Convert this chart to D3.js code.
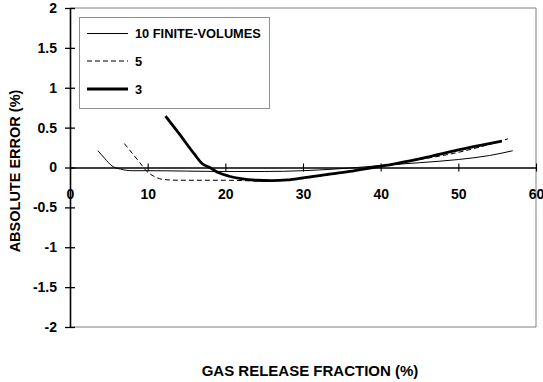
<!DOCTYPE html>
<html>
<head>
<meta charset="utf-8">
<script src="https://cdn.jsdelivr.net/npm/d3@7"></script>
<style>
  html, body { margin: 0; padding: 0; background: #fff; }
  svg { display: block; }
  text { font-family: "Liberation Sans", Arial, Helvetica, sans-serif; font-weight: bold; fill: #000; }
</style>
</head>
<body>
<svg id="chart" width="543" height="382"></svg>
<script>
// Absolute error vs. gas release fraction for three discretisations
const x10 = [3.6, 4.5, 5.4, 6.5, 8, 10, 15, 20, 25, 30, 34, 37, 40, 45, 50, 54, 57];
const y10 = [0.21, 0.11, 0.02, -0.02, -0.04, -0.04, -0.045, -0.05, -0.05, -0.04, -0.02, 0.0, 0.025, 0.06, 0.10, 0.15, 0.21];

const x5 = [7.0, 8.0, 9.0, 9.9, 10.8, 12.0, 14, 17, 20, 25, 30, 34, 37, 40, 45, 50, 54, 56.4];
const y5 = [0.30, 0.18, 0.06, -0.05, -0.11, -0.15, -0.16, -0.16, -0.16, -0.17, -0.14, -0.08, -0.03, 0.02, 0.10, 0.19, 0.29, 0.36];

const x3 = [12.3, 14, 16, 17, 18, 19, 20.5, 22, 24, 26, 28, 30, 33, 36, 39, 42, 46, 50, 53, 55.6];
const y3 = [0.645, 0.43, 0.17, 0.05, 0.0, -0.06, -0.11, -0.14, -0.16, -0.165, -0.155, -0.13, -0.09, -0.05, 0.0, 0.05, 0.13, 0.22, 0.28, 0.33];

const legendLabels = ["10 FINITE-VOLUMES", "5", "3"];
const xTicks = [0, 10, 20, 30, 40, 50, 60];
const yTicks = [-2, -1.5, -1, -0.5, 0, 0.5, 1, 1.5, 2];
const xTitle = "GAS RELEASE FRACTION (%)";
const yTitle = "ABSOLUTE ERROR (%)";

const svg = d3.select("#chart");
const plotLeft = 70, plotRight = 536, plotTop = 8, plotBottom = 327;

const x = d3.scaleLinear().domain([0, 60]).range([plotLeft, plotRight]);
const y = d3.scaleLinear().domain([-2, 2]).range([plotBottom, plotTop]);

// plot frame (top, right, bottom)
svg.append("path")
  .attr("d", `M${plotLeft},${plotTop}H${plotRight}V${plotBottom}H${plotLeft}`)
  .attr("fill", "none").attr("stroke", "#808080").attr("stroke-width", 1);

// y axis with crossing ticks
const yAxis = svg.append("g")
  .attr("transform", `translate(${plotLeft},0)`)
  .call(d3.axisLeft(y).tickValues(yTicks).tickFormat(d => String(d)).tickSize(5).tickSizeOuter(0));
yAxis.select(".domain").attr("stroke", "#000").attr("stroke-width", 1.6);
yAxis.selectAll(".tick line").attr("x1", -5).attr("x2", 5).attr("stroke-width", 1.3);
yAxis.selectAll(".tick text").attr("x", -13).style("font-size", "14px").style("font-family", null);

// x axis along zero with crossing ticks
const xAxis = svg.append("g")
  .attr("transform", `translate(0,${y(0)})`)
  .call(d3.axisBottom(x).tickValues(xTicks).tickFormat(d => String(d)).tickSize(4).tickSizeOuter(0));
xAxis.select(".domain").attr("stroke", "#000").attr("stroke-width", 1.3);
xAxis.selectAll(".tick line").attr("y1", -4).attr("y2", 4).attr("stroke-width", 1.1);
xAxis.selectAll(".tick text").attr("y", 0).attr("dy", "31").style("font-size", "14px").style("font-family", null);

// series
const line = d3.line().x(d => x(d[0])).y(d => y(d[1])).curve(d3.curveMonotoneX);
const series = [
  { xs: x10, ys: y10, width: 1, dash: null },
  { xs: x5, ys: y5, width: 1, dash: "5,3" },
  { xs: x3, ys: y3, width: 2.8, dash: null }
];
series.forEach(s => {
  svg.append("path")
    .datum(s.xs.map((v, i) => [v, s.ys[i]]))
    .attr("d", line)
    .attr("fill", "none")
    .attr("stroke", "#000")
    .attr("stroke-width", s.width)
    .attr("stroke-dasharray", s.dash);
});

// legend
const lg = svg.append("g");
lg.append("rect")
  .attr("x", 79.5).attr("y", 17.5).attr("width", 190).attr("height", 91)
  .attr("fill", "#fff").attr("stroke", "#909090").attr("stroke-width", 1);
const legendY = [33.5, 61, 89];
series.forEach((s, i) => {
  lg.append("line")
    .attr("x1", 87).attr("x2", 128).attr("y1", legendY[i]).attr("y2", legendY[i])
    .attr("stroke", "#000").attr("stroke-width", s.width).attr("stroke-dasharray", s.dash);
  lg.append("text")
    .attr("x", 135).attr("y", legendY[i]).attr("dy", "0.36em")
    .style("font-size", "12.8px")
    .text(legendLabels[i]);
});

// axis titles
svg.append("text")
  .attr("x", 310).attr("y", 376)
  .attr("text-anchor", "middle")
  .style("font-size", "15px")
  .text(xTitle);
svg.append("text")
  .attr("transform", "translate(20,171) rotate(-90)")
  .attr("text-anchor", "middle")
  .style("font-size", "14.5px")
  .text(yTitle);
</script>
</body>
</html>
